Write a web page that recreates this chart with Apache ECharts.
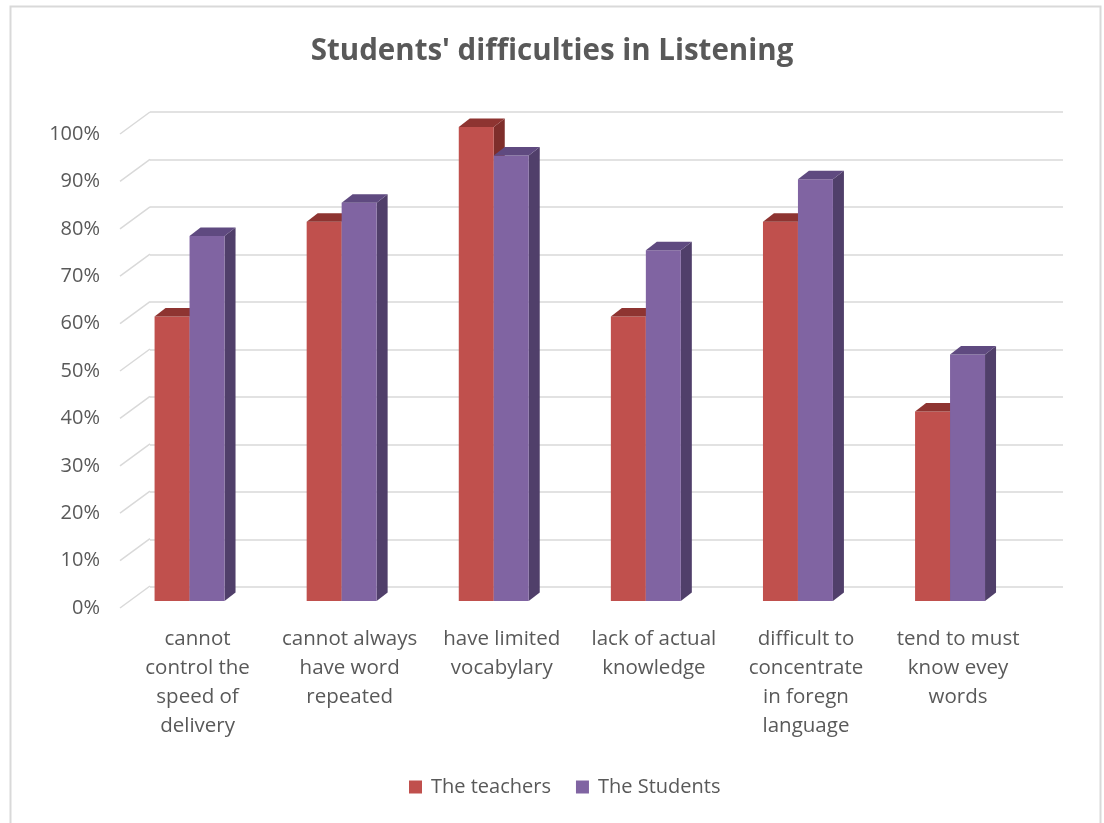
<!DOCTYPE html>
<html>
<head>
<meta charset="utf-8">
<script src="https://cdn.jsdelivr.net/npm/echarts@6/dist/echarts.min.js"></script>
<style>
  html, body { margin: 0; padding: 0; background: #fff; }
  #chart { width: 1104px; height: 823px; }
</style>
</head>
<body>
<div id="chart"></div>
<script>
// Survey results: share of respondents naming each listening difficulty
const categories = [
  'cannot\ncontrol the\nspeed of\ndelivery',
  'cannot always\nhave word\nrepeated',
  'have limited\nvocabylary',
  'lack of actual\nknowledge',
  'difficult to\nconcentrate\nin foregn\nlanguage',
  'tend to must\nknow evey\nwords'
];
const seriesNames = ['The teachers', 'The Students'];
const teachers = [60, 80, 100, 60, 80, 40];
const students = [77, 84, 94, 74, 89, 52];
const yTicks = [0, 10, 20, 30, 40, 50, 60, 70, 80, 90, 100];

const TEXT = '#595959';
const FONT = '"Open Sans", Lato, sans-serif';

// face colours for the pseudo-3D columns: front, top, side
const palette = [
  { front: '#C0504D', top: '#8E3431', side: '#7E2E2B' },
  { front: '#8064A2', top: '#5F4A80', side: '#503F6A' }
];

// column depth offset (px)
const DX = 11, DY = -8.5;

function columnRenderer(seriesIdx) {
  const col = palette[seriesIdx];
  return function (params, api) {
    const cat = api.value(0);
    const val = api.value(1);
    const top = api.coord([cat, val]);
    const base = api.coord([cat, 0]);
    const band = api.size([1, 0])[0];
    const w = band * 0.23;
    const x0 = seriesIdx === 0 ? top[0] - w : top[0];
    const x1 = x0 + w;
    const yt = top[1], yb = base[1];
    return {
      type: 'group',
      children: [
        {
          type: 'polygon',
          shape: { points: [[x1, yt], [x1 + DX, yt + DY], [x1 + DX, yb + DY], [x1, yb]] },
          style: { fill: col.side }
        },
        {
          type: 'rect',
          shape: { x: x0, y: yt, width: w, height: yb - yt },
          style: { fill: col.front }
        },
        {
          type: 'polygon',
          shape: { points: [[x0, yt], [x0 + DX, yt + DY], [x1 + DX, yt + DY], [x1, yt]] },
          style: { fill: col.top }
        }
      ]
    };
  };
}

// short slanted floor-to-wall connectors for each gridline
function slantRenderer(params, api) {
  const p = api.coord([0, api.value(0)]);
  return {
    type: 'line',
    shape: { x1: p[0], y1: p[1], x2: p[0] + 30, y2: p[1] - 22 },
    style: { stroke: '#d9d9d9', lineWidth: 1.5 }
  };
}

const chart = echarts.init(document.getElementById('chart'), null, { renderer: 'canvas' });

chart.setOption({
  backgroundColor: '#ffffff',
  animation: false,
  title: {
    text: "Students' difficulties in Listening",
    left: 'center',
    top: 32,
    textStyle: { fontFamily: FONT, fontSize: 29.5, fontWeight: 'bold', color: TEXT }
  },
  legend: {
    data: seriesNames,
    bottom: 21,
    left: 404,
    icon: 'rect',
    itemWidth: 13,
    itemHeight: 13,
    itemGap: 25,
    textStyle: { fontFamily: FONT, fontSize: 20, color: TEXT, padding: [0, 0, 0, 4] }
  },
  graphic: [{
    type: 'rect',
    shape: { x: 10.5, y: 6.5, width: 1090, height: 840 },
    style: { fill: 'none', stroke: '#d9d9d9', lineWidth: 2 },
    silent: true,
    z: -1
  }],
  grid: [
    // back wall
    { left: 150, right: 41, top: 112, bottom: 236 },
    // front edge (tick labels)
    { left: 120, right: 41, top: 134, bottom: 215 },
    // column plane
    { left: 113.5, width: 912.6, top: 127, bottom: 222 }
  ],
  xAxis: [
    { gridIndex: 0, type: 'category', data: categories, show: false },
    { gridIndex: 1, type: 'value', min: 0, max: 1, show: false },
    {
      gridIndex: 2,
      type: 'category',
      data: categories,
      axisLine: { show: false },
      axisTick: { show: false },
      axisLabel: {
        interval: 0,
        margin: 24,
        padding: [0, 0, 0, 16],
        fontFamily: FONT,
        fontSize: 20.5,
        lineHeight: 29,
        color: TEXT
      }
    }
  ],
  yAxis: [
    {
      gridIndex: 0, type: 'value', min: 0, max: 100, interval: 10,
      axisLabel: { show: false },
      axisLine: { show: false },
      axisTick: { show: false },
      splitLine: { show: true, lineStyle: { color: '#d9d9d9', width: 1.5 } }
    },
    {
      gridIndex: 1, type: 'value', min: 0, max: 100, interval: 10,
      axisLine: { show: false },
      axisTick: { show: false },
      splitLine: { show: false },
      axisLabel: {
        margin: 20,
        formatter: '{value}%',
        fontFamily: FONT,
        fontSize: 20,
        color: TEXT
      }
    },
    {
      gridIndex: 2, type: 'value', min: 0, max: 100, interval: 10,
      show: false,
      splitLine: { show: false }
    }
  ],
  series: [
    {
      type: 'custom',
      name: 'gridSlants',
      xAxisIndex: 1,
      yAxisIndex: 1,
      silent: true,
      renderItem: slantRenderer,
      encode: { y: 0 },
      data: yTicks.map(v => [v])
    },
    {
      type: 'custom',
      name: seriesNames[0],
      xAxisIndex: 2,
      yAxisIndex: 2,
      itemStyle: { color: palette[0].front },
      renderItem: columnRenderer(0),
      encode: { x: 0, y: 1 },
      data: teachers.map((v, i) => [i, v])
    },
    {
      type: 'custom',
      name: seriesNames[1],
      xAxisIndex: 2,
      yAxisIndex: 2,
      itemStyle: { color: palette[1].front },
      renderItem: columnRenderer(1),
      encode: { x: 0, y: 1 },
      data: students.map((v, i) => [i, v])
    }
  ]
});
</script>
</body>
</html>
